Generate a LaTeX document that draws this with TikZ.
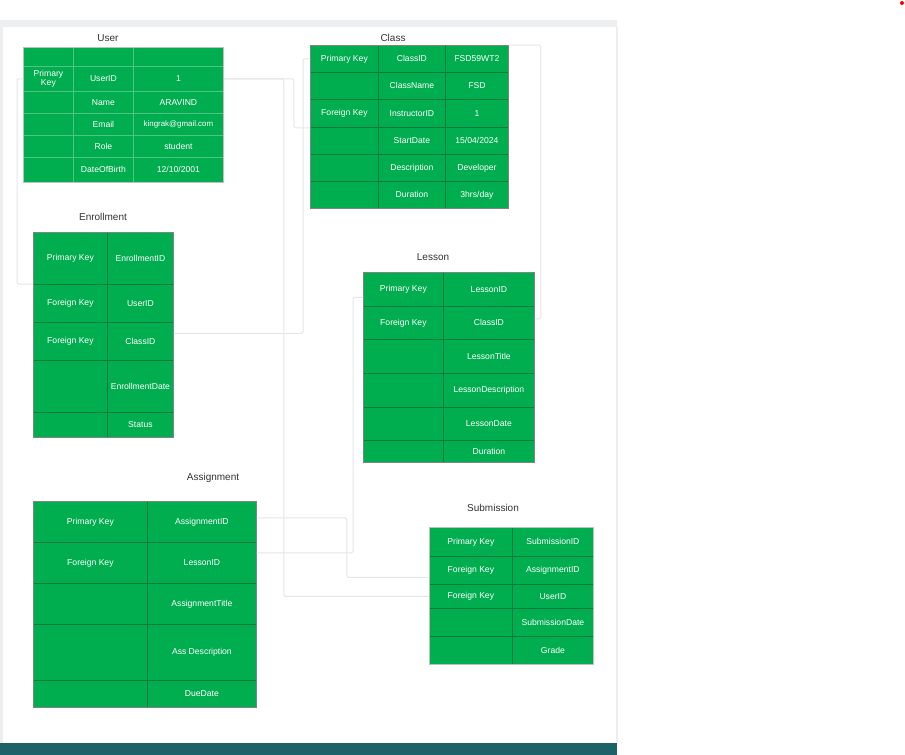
\documentclass[tikz,border=0pt]{standalone}
\usepackage{fontspec}
\setmainfont{Liberation Sans}
\usepackage{tikz}

\definecolor{tablegreen}{RGB}{0,173,79}
\definecolor{gridgreen}{RGB}{10,120,58}
\definecolor{palegrid}{RGB}{80,195,128}
\definecolor{linkgray}{RGB}{230,230,230}
\definecolor{framegray}{RGB}{125,135,130}
\definecolor{paleframe}{RGB}{190,190,190}
\definecolor{titlegray}{RGB}{51,51,51}
\definecolor{panelgray}{RGB}{236,238,240}
\definecolor{barteal}{RGB}{28,98,104}

\tikzset{
	cell/.style={draw=gridgreen, fill=tablegreen, text=white, anchor=north west,
		inner sep=0pt, line width=0.8pt, align=center, font=\fontsize{8.6}{9}\selectfont},
	title/.style={text=titlegray, font=\fontsize{10}{12}\selectfont},
	frame/.style={draw=framegray, line width=1pt},
	link/.style={draw=linkgray, line width=1pt, rounded corners=1.5pt}
}

\begin{document}
\begin{tikzpicture}[x=1pt, y=-1pt]
	\useasboundingbox (0,0) rectangle (905,755);
	\fill[white] (0,0) rectangle (905,755);
	\fill[panelgray] (0,20) rectangle (617,27);
	\fill[panelgray] (0,27) rectangle (3,743);
	\draw[panelgray, line width=1.5pt] (617,27) -- (617,743);
	\fill[barteal] (0,743) rectangle (617,755);
	\fill[red] (902,3) circle [radius=2];

	% User
	\node[title] (user-title) at (108,38) {User};
	\foreach \r/\y/\h/\a/\b/\c in {1/47/19/{}/{}/{}, 2/66/25/{Primary\\Key}/UserID/1,
		3/91/22/{}/Name/ARAVIND, 4/113/22/{}/Email/{\fontsize{7.9}{9}\selectfont kingrak@gmail.com},
		5/135/22/{}/Role/student, 6/157/25/{}/DateOfBirth/{12/10/2001}} {
		\node[cell, draw=palegrid, minimum width=50pt, minimum height=\h pt] (user-\r-1) at (23,\y) {\a};
		\node[cell, draw=palegrid, minimum width=60pt, minimum height=\h pt] (user-\r-2) at (73,\y) {\b};
		\node[cell, draw=palegrid, minimum width=90pt, minimum height=\h pt] (user-\r-3) at (133,\y) {\c};
	}
	\draw[frame, draw=paleframe] (user-1-1.north west) rectangle (user-6-3.south east);

	% Class
	\node[title] (class-title) at (393,38) {Class};
	\foreach \r/\y/\h/\a/\b/\c in {1/45/27/Primary Key/ClassID/FSD59WT2, 2/72/27/{}/ClassName/FSD,
		3/99/28/Foreign Key/InstructorID/1, 4/127/27/{}/StartDate/{15/04/2024},
		5/154/27/{}/Description/Developer, 6/181/27/{}/Duration/{3hrs/day}} {
		\node[cell, minimum width=68pt, minimum height=\h pt] (class-\r-1) at (310,\y) {\a};
		\node[cell, minimum width=67pt, minimum height=\h pt] (class-\r-2) at (378,\y) {\b};
		\node[cell, minimum width=63pt, minimum height=\h pt] (class-\r-3) at (445,\y) {\c};
	}
	\draw[frame] (class-1-1.north west) rectangle (class-6-3.south east);

	% Enrollment
	\node[title] (enroll-title) at (103,217) {Enrollment};
	\foreach \r/\y/\h/\a/\b in {1/232/52/Primary Key/EnrollmentID, 2/284/38/Foreign Key/UserID,
		3/322/38/Foreign Key/ClassID, 4/360/52/{}/EnrollmentDate, 5/412/25/{}/Status} {
		\node[cell, minimum width=74pt, minimum height=\h pt] (enroll-\r-1) at (33,\y) {\a};
		\node[cell, minimum width=66pt, minimum height=\h pt] (enroll-\r-2) at (107,\y) {\b};
	}
	\draw[frame] (enroll-1-1.north west) rectangle (enroll-5-2.south east);

	% Lesson
	\node[title] (lesson-title) at (433,257) {Lesson};
	\foreach \r/\y/\h/\a/\b in {1/272/34/Primary Key/LessonID, 2/306/33/Foreign Key/ClassID,
		3/339/34/{}/LessonTitle, 4/373/34/{}/LessonDescription, 5/407/33/{}/LessonDate,
		6/440/22/{}/Duration} {
		\node[cell, minimum width=80pt, minimum height=\h pt] (lesson-\r-1) at (363,\y) {\a};
		\node[cell, minimum width=91pt, minimum height=\h pt] (lesson-\r-2) at (443,\y) {\b};
	}
	\draw[frame] (lesson-1-1.north west) rectangle (lesson-6-2.south east);

	% Assignment
	\node[title] (assign-title) at (213,478) {Assignment};
	\foreach \r/\y/\h/\a/\b in {1/501/41/Primary Key/AssignmentID, 2/542/41/Foreign Key/LessonID,
		3/583/41/{}/AssignmentTitle, 4/624/56/{}/Ass Description, 5/680/27/{}/DueDate} {
		\node[cell, minimum width=114pt, minimum height=\h pt] (assign-\r-1) at (33,\y) {\a};
		\node[cell, minimum width=109pt, minimum height=\h pt] (assign-\r-2) at (147,\y) {\b};
	}
	\draw[frame] (assign-1-1.north west) rectangle (assign-5-2.south east);

	% Submission
	\node[title] (sub-title) at (493,508) {Submission};
	\foreach \r/\y/\h/\a/\b in {1/527/29/Primary Key/SubmissionID, 2/556/28/Foreign Key/AssignmentID,
		3/584/24/Foreign Key/UserID, 4/608/28/{}/SubmissionDate, 5/636/28/{}/Grade} {
		\node[cell, minimum width=83pt, minimum height=\h pt] (sub-\r-1) at (429,\y) {\a};
		\node[cell, minimum width=81pt, minimum height=\h pt] (sub-\r-2) at (512,\y) {\b};
	}
	\draw[frame, draw=paleframe] (sub-1-1.north west) rectangle (sub-5-2.south east);

	% links
	\draw[link] (user-2-1.west) -- ++(-6,0) |- (enroll-2-1.north west);
	\draw[link] (user-2-3.east) -- ++(70,0) |- (class-3-1.south west);
	\draw[link] (user-2-3.east) -- ++(60,0) |- (sub-3-1.west);
	\draw[link] (class-1-1.west) -- ++(-7,0) |- ([yshift=8pt]enroll-3-2.east);
	\draw[link] (class-1-3.north east) -- ++(32,0) |- ([yshift=4pt]lesson-2-2.east);
	\draw[link] ([yshift=-8pt]lesson-1-1.west) -- ++(-10,0) |- ([yshift=10pt]assign-2-2.east);
	\draw[link] ([yshift=4pt]assign-1-2.east) -- ++(90,0) |- ([yshift=-7pt]sub-2-1.west);
\end{tikzpicture}
\end{document}
